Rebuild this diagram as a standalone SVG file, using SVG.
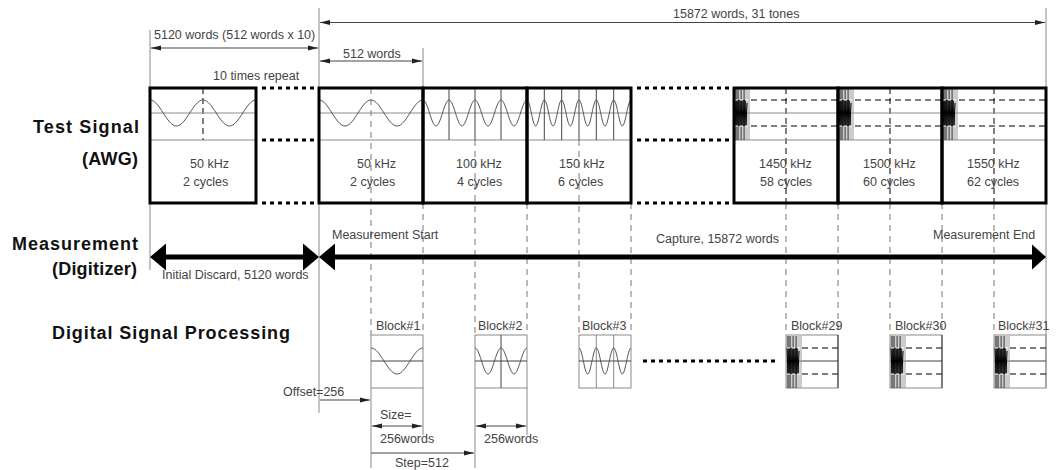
<svg xmlns="http://www.w3.org/2000/svg" xmlns:xlink="http://www.w3.org/1999/xlink" width="1058" height="470" viewBox="0 0 1058 470">
<style>
.t{font-family:"Liberation Sans",Arial,sans-serif;font-size:12.5px;fill:#444}
.h{font-family:"Liberation Sans",Arial,sans-serif;font-size:18px;font-weight:bold;fill:#111}
.box{fill:none;stroke:#000;stroke-width:3}
.g{stroke:#8a8a8a;stroke-width:1;fill:none}
.c{stroke:#444;stroke-width:1;fill:none}
.dg{stroke:#777;stroke-width:1;stroke-dasharray:6 5;fill:none}
.dk{stroke:#000;stroke-width:1;stroke-dasharray:6 4;fill:none}
.wave{fill:none;stroke:#555;stroke-width:1}
.dots{stroke:#000;stroke-width:3;stroke-dasharray:4 4}
.dim{stroke:#444;stroke-width:1;fill:none}
.big{stroke:#000;stroke-width:5}
</style>
<defs>
<marker id="ah" markerUnits="userSpaceOnUse" markerWidth="11" markerHeight="6" refX="10" refY="3" orient="auto-start-reverse">
<path d="M0,0.5 L10,3 L0,5.5 Z" fill="#222"/>
</marker>
<g id="dense">
<path d="M1,-25V27M3,-25V27M5,-25V27M8,-25V27M11,-25V27M13,-25V27M15,-25V27" stroke="#999" stroke-width="1"/>
<path d="M2,-25V27M4,-25V27M7,-25V27M10,-25V27" stroke="#222" stroke-width="1"/>
<polyline points="1,-13 2,13 3,-13 4,13 5,-13 6,13 7,-13 8,13 9,-13 10,13 11,-13 12,13 13,-10" fill="none" stroke="#000" stroke-width="1"/>
<path d="M1,-13H16M1,13H16" stroke="#fff" stroke-width="1" stroke-dasharray="3 2"/>
</g>
</defs>
<rect width="1058" height="470" fill="#fff"/>

<g id="connectors">
<!-- extension lines -->
<line class="g" x1="150" y1="30" x2="150" y2="270"/>
<line class="g" x1="319" y1="8" x2="319" y2="413"/>
<line class="g" x1="1046" y1="8" x2="1046" y2="388"/>
<line class="g" x1="423" y1="48" x2="423" y2="88"/>
<!-- dimension arrows -->
<line class="dim" x1="320" y1="22.5" x2="1045" y2="22.5" marker-start="url(#ah)" marker-end="url(#ah)"/>
<line class="dim" x1="151" y1="48" x2="318" y2="48" marker-start="url(#ah)" marker-end="url(#ah)"/>
<line class="dim" x1="320" y1="61" x2="422" y2="61" marker-start="url(#ah)" marker-end="url(#ah)"/>
<!-- dotted continuation -->
<line class="dots" x1="262" y1="88" x2="316" y2="88"/>
<line class="dots" x1="262" y1="140" x2="316" y2="140"/>
<line class="dots" x1="262" y1="203" x2="316" y2="203"/>
<line class="dots" x1="637" y1="88" x2="732" y2="88"/>
<line class="dots" x1="637" y1="140" x2="732" y2="140"/>
<line class="dots" x1="637" y1="203" x2="732" y2="203"/>
<line class="dots" x1="643" y1="361" x2="775" y2="361"/>
<!-- guide lines from tones to blocks -->
<path class="dg" d="M371,88V335M475,140V335M579,140V335M423,203V335M527,203V335M631,203V335M786,203V335M838,203V335M890,203V335M942,203V335M994,203V335"/>
<path class="dk" d="M203,88V140M786,88V203M890,88V203M994,88V203"/>
<!-- measurement arrows -->
<line class="big" x1="162" y1="257" x2="307" y2="257"/>
<polygon points="150,257 166,243.5 166,270.5" fill="#000"/>
<polygon points="319,257 303,243.5 303,270.5" fill="#000"/>
<line class="big" x1="331" y1="257" x2="1034" y2="257"/>
<polygon points="319,257 335,243.5 335,270.5" fill="#000"/>
<polygon points="1046,257 1032,244.5 1032,269.5" fill="#000"/>
<!-- DSP dimensions -->
<path class="g" d="M371,388V468M423,388V435M475,388V468M527,388V435"/>
<line class="dim" x1="320" y1="400" x2="370" y2="400" marker-end="url(#ah)"/>
<line class="dim" x1="372" y1="426" x2="422" y2="426" marker-start="url(#ah)" marker-end="url(#ah)"/>
<line class="dim" x1="476" y1="426" x2="526" y2="426" marker-start="url(#ah)" marker-end="url(#ah)"/>
<line class="dim" x1="371" y1="453" x2="474" y2="453" marker-end="url(#ah)"/>
</g>

<g id="labels">
<text class="h" x="33" y="133" textLength="106" lengthAdjust="spacing">Test Signal</text>
<text class="h" x="82" y="165" textLength="56" lengthAdjust="spacing">(AWG)</text>
<text class="h" x="12" y="250" textLength="126" lengthAdjust="spacing">Measurement</text>
<text class="h" x="52" y="275" textLength="85" lengthAdjust="spacing">(Digitizer)</text>
<text class="h" x="52" y="339" textLength="238" lengthAdjust="spacing">Digital Signal Processing</text>
<text class="t" x="673" y="18">15872 words, 31 tones</text>
<text class="t" x="154" y="38.5">5120 words (512 words x 10)</text>
<text class="t" x="343" y="57.5">512 words</text>
<text class="t" x="213" y="80">10 times repeat</text>
<text class="t" x="332" y="239">Measurement Start</text>
<text class="t" x="162" y="279">Initial Discard, 5120 words</text>
<text class="t" x="656" y="243">Capture, 15872 words</text>
<text class="t" x="933" y="239">Measurement End</text>
<text class="t" x="283" y="396">Offset=256</text>
<text class="t" x="380" y="419">Size=</text>
<text class="t" x="380" y="443">256words</text>
<text class="t" x="484" y="443">256words</text>
<text class="t" x="395" y="467">Step=512</text>
</g>

<g id="tone-repeat">
<line class="g" x1="150" y1="113" x2="256" y2="113"/>
<line class="g" x1="150" y1="140" x2="256" y2="140"/>
<path class="wave" d="M150,100 C159.63,100 166.87,126 176.5,126 S193.37,100 203,100 S219.87,126 229.5,126 S246.37,100 256,100"/>
<rect class="box" x="150" y="88" width="106" height="115"/>
<text class="t" x="190" y="168">50 kHz</text>
<text class="t" x="183" y="186">2 cycles</text>
</g>

<g id="tone-50">
<line class="g" x1="319" y1="113" x2="423" y2="113"/>
<line class="g" x1="319" y1="140" x2="423" y2="140"/>
<path class="wave" d="M319,100 C328.45,100 335.55,126 345,126 S361.55,100 371,100 S387.55,126 397,126 S413.55,100 423,100"/>
<rect class="box" x="319" y="88" width="104" height="115"/>
<text class="t" x="357" y="168">50 kHz</text>
<text class="t" x="350" y="186">2 cycles</text>
</g>

<g id="tone-100">
<line class="g" x1="423" y1="113" x2="527" y2="113"/>
<line class="g" x1="423" y1="140" x2="527" y2="140"/>
<path class="c" d="M449,88V140M475,88V140M501,88V140"/>
<path class="wave" d="M423,100 C427.72,100 431.28,126 436,126 S444.28,100 449,100 S457.28,126 462,126 S470.28,100 475,100 S483.28,126 488,126 S496.28,100 501,100 S509.28,126 514,126 S522.28,100 527,100"/>
<rect class="box" x="423" y="88" width="104" height="115"/>
<text class="t" x="456" y="168">100 kHz</text>
<text class="t" x="457" y="186">4 cycles</text>
</g>

<g id="tone-150">
<line class="g" x1="527" y1="113" x2="631" y2="113"/>
<line class="g" x1="527" y1="140" x2="631" y2="140"/>
<path class="c" d="M544.3,88V140M561.7,88V140M579,88V140M596.3,88V140M613.7,88V140"/>
<path class="wave" d="M527,100 C530.15,100 532.52,126 535.67,126 S541.18,100 544.33,100 S549.85,126 553,126 S558.52,100 561.67,100 S567.18,126 570.33,126 S575.85,100 579,100 S584.52,126 587.67,126 S593.18,100 596.33,100 S601.85,126 605,126 S610.52,100 613.67,100 S619.18,126 622.33,126 S627.85,100 631,100"/>
<rect class="box" x="527" y="88" width="104" height="115"/>
<text class="t" x="559" y="168">150 kHz</text>
<text class="t" x="558" y="186">6 cycles</text>
</g>

<g id="tone-1450">
<path class="g" d="M734,113H838M734,140H838"/>
<path class="dk" d="M751,100H838M751,126H838"/>
<use xlink:href="#dense" x="734" y="113"/>
<rect class="box" x="734" y="88" width="104" height="115"/>
<text class="t" x="759" y="168">1450 kHz</text>
<text class="t" x="760" y="186">58 cycles</text>
</g>

<g id="tone-1500">
<path class="g" d="M838,113H942M838,140H942"/>
<path class="dk" d="M855,100H942M855,126H942"/>
<use xlink:href="#dense" x="838" y="113"/>
<rect class="box" x="838" y="88" width="104" height="115"/>
<text class="t" x="863" y="168">1500 kHz</text>
<text class="t" x="863" y="186">60 cycles</text>
</g>

<g id="tone-1550">
<path class="g" d="M942,113H1046M942,140H1046"/>
<path class="dk" d="M959,100H1046M959,126H1046"/>
<use xlink:href="#dense" x="942" y="113"/>
<rect class="box" x="942" y="88" width="104" height="115"/>
<text class="t" x="967" y="168">1550 kHz</text>
<text class="t" x="967" y="186">62 cycles</text>
</g>

<g id="block-1">
<rect class="g" x="371" y="335" width="52" height="53"/>
<line class="c" x1="371" y1="361" x2="423" y2="361"/>
<path class="wave" d="M371,348 C380.45,348 387.55,374 397,374 S413.55,348 423,348"/>
<text class="t" x="376" y="330">Block#1</text>
</g>

<g id="block-2">
<rect class="g" x="475" y="335" width="52" height="53"/>
<line class="c" x1="475" y1="361" x2="527" y2="361"/>
<line class="c" x1="501" y1="335" x2="501" y2="388" stroke="#000"/>
<path class="wave" d="M475,348 C479.72,348 483.28,374 488,374 S496.28,348 501,348 S509.28,374 514,374 S522.28,348 527,348"/>
<text class="t" x="478" y="330">Block#2</text>
</g>

<g id="block-3">
<rect class="g" x="579" y="335" width="52" height="53"/>
<path class="g" d="M596.3,335V388M613.7,335V388"/>
<line class="c" x1="579" y1="361" x2="631" y2="361"/>
<path class="wave" d="M579,348 C582.15,348 584.52,374 587.67,374 S593.18,348 596.33,348 S601.85,374 605,374 S610.52,348 613.67,348 S619.18,374 622.33,374 S627.85,348 631,348"/>
<text class="t" x="582" y="330">Block#3</text>
</g>

<g id="block-29">
<rect class="g" x="786" y="335" width="52" height="53"/>
<line class="c" x1="786" y1="361" x2="838" y2="361"/>
<path class="dk" d="M802,348H838M802,374H838"/>
<line x1="838" y1="335" x2="838" y2="388" stroke="#333"/>
<use xlink:href="#dense" x="786" y="361"/>
<text class="t" x="791" y="330">Block#29</text>
</g>

<g id="block-30">
<rect class="g" x="890" y="335" width="52" height="53"/>
<line class="c" x1="890" y1="361" x2="942" y2="361"/>
<path class="dk" d="M906,348H942M906,374H942"/>
<line x1="942" y1="335" x2="942" y2="388" stroke="#333"/>
<use xlink:href="#dense" x="890" y="361"/>
<text class="t" x="895" y="330">Block#30</text>
</g>

<g id="block-31">
<rect class="g" x="994" y="335" width="52" height="53"/>
<line class="c" x1="994" y1="361" x2="1046" y2="361"/>
<path class="dk" d="M1010,348H1046M1010,374H1046"/>
<use xlink:href="#dense" x="994" y="361"/>
<text class="t" x="998" y="330">Block#31</text>
</g>
</svg>
